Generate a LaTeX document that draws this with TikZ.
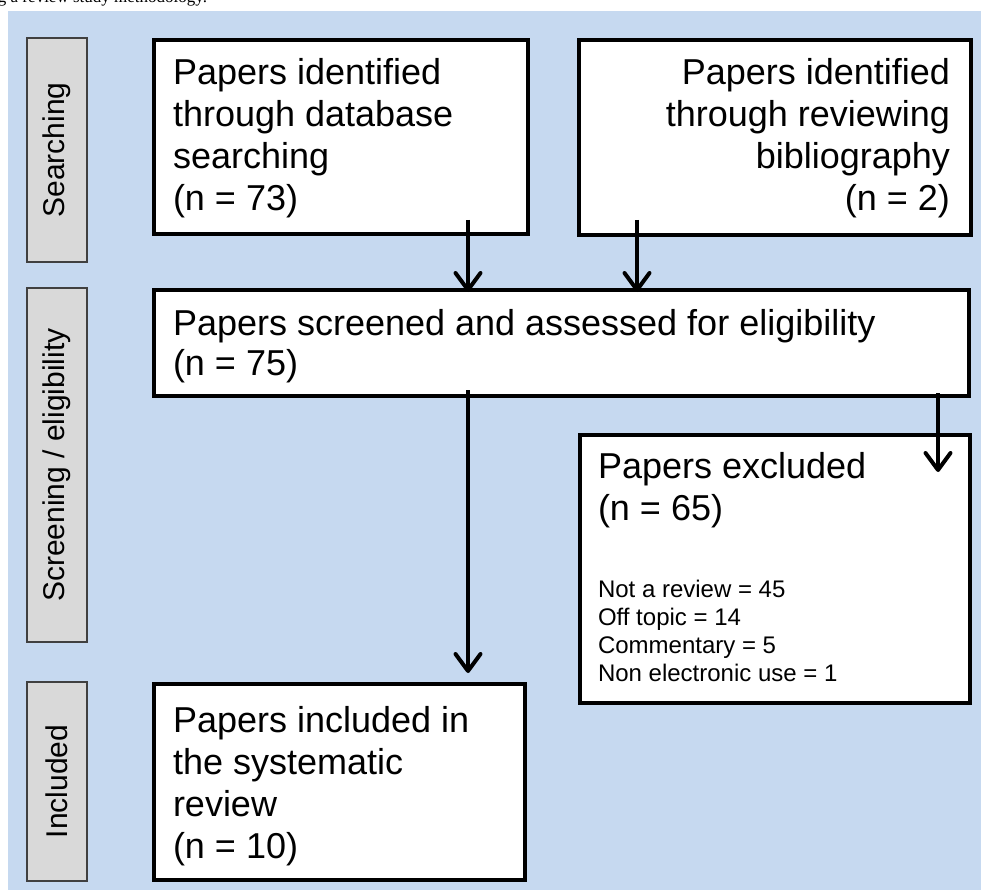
\documentclass[tikz,border=0pt]{standalone}
\usepackage{fontspec}
\setmainfont{Liberation Sans}
\newfontfamily\capfont{Liberation Serif}
\usetikzlibrary{arrows.meta,calc}
\definecolor{bgblue}{RGB}{198,217,240}
\definecolor{sidegrey}{RGB}{217,217,217}
\begin{document}
\begin{tikzpicture}[x=1pt,y=-1pt,
  box/.style={draw=black, line width=4pt, fill=white, anchor=north west, outer sep=0pt, inner sep=0pt},
  side/.style={draw=black!75, line width=1.5pt, fill=sidegrey, rotate=90, inner sep=0pt, outer sep=0pt, minimum height=60pt, font=\fontsize{30}{36}\selectfont},
  txt/.style={anchor=base west, inner sep=0pt, outer sep=0pt},
  txtr/.style={anchor=base east, inner sep=0pt, outer sep=0pt},
  arr/.style={line width=4pt, -{Straight Barb[length=17pt, width=25pt, round]}},
]
\useasboundingbox (0,0) rectangle (981,890);
\fill[white] (0,0) rectangle (981,890);
\fill[bgblue] (8,11) rectangle (981,890);
\begin{scope}
\clip (0,0) rectangle (981,11);
\node[txt, font=\capfont\fontsize{17}{20}\selectfont] (cap) at (-2,3) {g a review study methodology.};
\end{scope}

% side labels
\node[side, minimum width=224pt] (s1) at (57,150) {Searching};
\node[side, minimum width=354pt] (s2) at (57,465) {Screening / eligibility};
\node[side, minimum width=199pt] (s3) at (57,781.5) {Included};

% boxes
\node[box, minimum width=374pt, minimum height=194pt] (db) at (154,40) {};
\node[box, minimum width=392pt, minimum height=195pt] (bib) at (579,40) {};
\node[box, minimum width=815pt, minimum height=106pt] (scr) at (154,290) {};
\node[box, minimum width=390pt, minimum height=268pt] (exc) at (580,435) {};
\node[box, minimum width=371pt, minimum height=196pt] (inc) at (154,684) {};

% texts
\node[txt, font=\fontsize{36}{41.7}\selectfont] (tdb) at (173,85)
  {\parbox[t]{340pt}{\raggedright Papers identified\\through database\\searching\\(n = 73)}};
\node[txtr, font=\fontsize{36}{41.7}\selectfont] (tbib) at (950,85)
  {\parbox[t]{360pt}{\raggedleft Papers identified\\through reviewing\\bibliography\\(n = 2)}};
\node[txt, font=\fontsize{36}{40}\selectfont] (tscr) at (173,335)
  {\parbox[t]{780pt}{\raggedright Papers screened and assessed for eligibility\\(n = 75)}};
\node[txt, font=\fontsize{36}{42}\selectfont] (texc) at (598,478)
  {\parbox[t]{360pt}{\raggedright Papers excluded\\(n = 65)}};
\node[txt, font=\fontsize{24}{28.3}\selectfont] (tlist) at (598,597)
  {\parbox[t]{360pt}{\raggedright Not a review = 45\\Off topic = 14\\Commentary = 5\\Non electronic use = 1}};
\node[txt, font=\fontsize{36}{42}\selectfont] (tinc) at (173,732)
  {\parbox[t]{340pt}{\raggedright Papers included in\\the systematic\\review\\(n = 10)}};

% arrows
\coordinate (ca) at (468,0);
\coordinate (cb) at (637,0);
\coordinate (cc) at (938,0);
\draw[arr] ($(db.south -| ca)+(0,-14)$) -- ($(scr.north -| ca)+(0,2)$);
\draw[arr] ($(bib.south -| cb)+(0,-15)$) -- ($(scr.north -| cb)+(0,2)$);
\draw[arr] ($(scr.south -| ca)+(0,-6)$) -- ($(inc.north -| ca)+(0,-11)$);
\draw[arr] ($(scr.south -| cc)+(0,-3)$) -- ($(exc.north -| cc)+(0,37)$);
\end{tikzpicture}
\end{document}
